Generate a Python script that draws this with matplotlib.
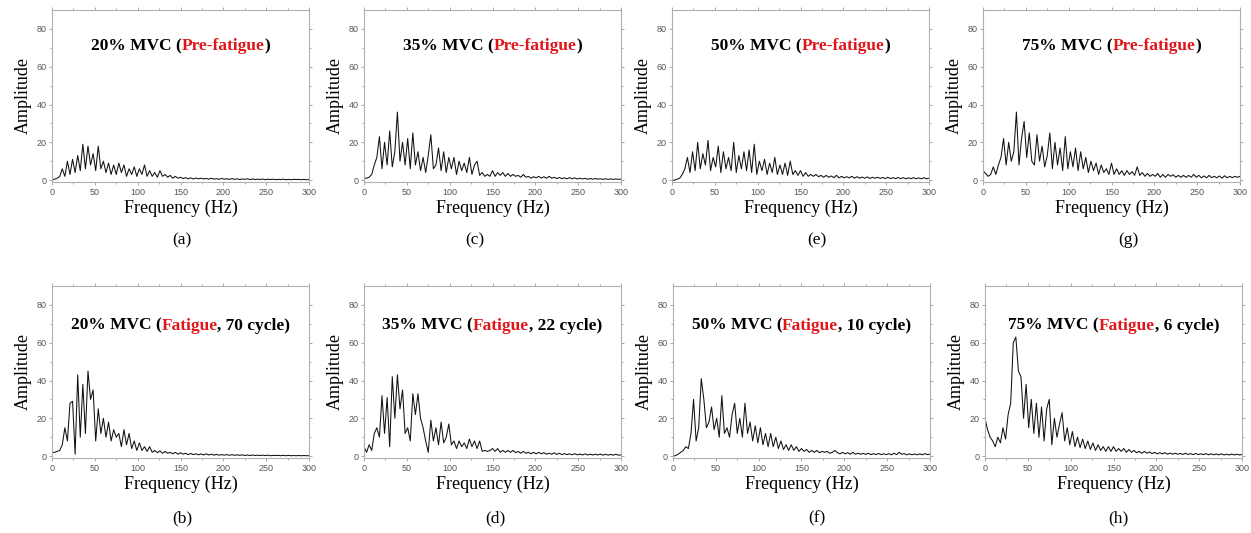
"""
EMG frequency spectra, pre-fatigue vs fatigue, at four MVC levels.
Saves out.png
"""

import numpy as np
import matplotlib
matplotlib.use('Agg')
import matplotlib.pyplot as plt

# ── Data (amplitude sampled every 3 Hz, 0..300 Hz) ───────────────────────────
STEP_HZ = 3

amp_20_pre = [
    0, 0.5, 1, 2, 6, 2, 10, 3, 11, 4,
    13, 5, 19, 6, 18, 8, 14, 5, 18, 6,
    10, 4, 9, 3, 8, 3, 9, 4, 8, 2,
    6, 3, 7, 2, 6, 3, 8, 2, 5, 2,
    4, 1.5, 5, 2, 3, 1.5, 2.5, 1, 2, 1,
    1.5, 0.8, 1.3, 0.7, 1.2, 0.6, 1.1, 0.7, 1, 0.6,
    0.9, 0.5, 1, 0.5, 0.8, 0.4, 0.9, 0.5, 0.7, 0.4,
    0.8, 0.4, 0.7, 0.3, 0.6, 0.4, 0.7, 0.3, 0.6, 0.3,
    0.5, 0.3, 0.6, 0.2, 0.5, 0.3, 0.5, 0.2, 0.4, 0.3,
    0.5, 0.2, 0.4, 0.2, 0.4, 0.3, 0.4, 0.2, 0.4, 0.2,
    0.3,
]
amp_35_pre = [
    1, 1, 1.5, 3, 8, 12, 23, 6, 20, 8,
    26, 7, 15, 36, 10, 20, 8, 22, 6, 25,
    8, 15, 5, 12, 4, 13, 24, 6, 8, 17,
    5, 15, 4, 12, 6, 12, 3, 10, 5, 9,
    4, 12, 3, 8, 10, 2.5, 4, 2, 3, 2,
    5, 2, 4, 2.5, 4, 2, 3.5, 2, 3, 2,
    2.5, 1.5, 3, 1.5, 2, 1, 1.8, 1.2, 2, 1,
    1.8, 1, 2, 1, 1.5, 0.8, 1.4, 0.8, 1.2, 0.7,
    1.3, 0.7, 1.2, 0.6, 1, 0.6, 0.9, 0.5, 0.8, 0.5,
    0.8, 0.5, 0.7, 0.4, 0.7, 0.4, 0.6, 0.4, 0.6, 0.4,
    0.5,
]
amp_50_pre = [
    0, 0, 0.5, 1, 3, 6, 12, 4, 15, 5,
    20, 6, 14, 8, 21, 5, 12, 7, 18, 4,
    15, 6, 12, 5, 20, 4, 13, 6, 15, 5,
    16, 4, 19, 3, 10, 5, 11, 3, 9, 4,
    12, 3, 8, 3, 9, 2.5, 10, 3, 5, 2.5,
    5, 2, 4, 2, 3, 2, 3, 1.8, 2.5, 1.5,
    2.5, 1.5, 2.2, 1.3, 2.5, 1.2, 2, 1.2, 1.8, 1.2,
    2, 1, 1.8, 1, 1.6, 1, 1.7, 0.9, 1.5, 1,
    1.5, 0.9, 1.4, 0.8, 1.5, 0.8, 1.3, 0.8, 1.4, 0.8,
    1.3, 0.7, 1.2, 0.8, 1.3, 0.7, 1.2, 0.7, 1.3, 0.7,
    1,
]
amp_75_pre = [
    5, 3.5, 2, 3, 7, 3, 8, 12, 22, 8,
    20, 10, 15, 36, 8, 22, 31, 12, 25, 10,
    8, 24, 10, 18, 7, 13, 25, 6, 20, 8,
    17, 5, 23, 6, 15, 7, 17, 5, 15, 6,
    12, 4, 10, 5, 9, 3, 8, 4, 6, 3,
    9, 3, 6, 3, 5, 2.5, 5, 3, 4.5, 2.5,
    7, 2.5, 4, 2, 3.5, 2, 3, 2, 3.5, 1.5,
    3, 1.5, 3, 2, 2.8, 1.5, 2.5, 1.5, 2.5, 1.5,
    2.5, 1.5, 3, 1.5, 2.5, 1.2, 2.2, 1.2, 2.5, 1.3,
    2, 1.2, 2.2, 1, 2.3, 1.2, 2, 1.3, 2, 1.5,
    2,
]
amp_20_fat = [
    2, 2, 2.5, 3, 6, 15, 8, 28, 29, 1,
    43, 10, 38, 12, 45, 30, 35, 8, 25, 12,
    20, 10, 18, 8, 14, 10, 12, 5, 14, 6,
    12, 4, 8, 3, 7, 3, 5, 2.5, 5, 2,
    3, 1.8, 2.8, 1.5, 2.5, 1.5, 2, 1.2, 2, 1,
    1.8, 1, 1.5, 0.8, 1.4, 0.8, 1.2, 0.7, 1.2, 0.6,
    1.2, 0.6, 1, 0.5, 0.9, 0.5, 0.8, 0.5, 0.8, 0.4,
    0.8, 0.4, 0.7, 0.4, 0.7, 0.3, 0.6, 0.3, 0.6, 0.3,
    0.5, 0.3, 0.5, 0.3, 0.5, 0.2, 0.4, 0.3, 0.4, 0.2,
    0.4, 0.2, 0.4, 0.2, 0.3, 0.2, 0.3, 0.2, 0.3, 0.2,
    0.2,
]
amp_35_fat = [
    5, 2, 6, 3, 12, 15, 10, 32, 12, 31,
    5, 42, 20, 43, 25, 35, 12, 15, 8, 33,
    22, 33, 20, 15, 8, 2, 19, 8, 15, 6,
    18, 7, 10, 17, 6, 8, 4, 8, 5, 7,
    4, 9, 5, 8, 4, 8, 2.5, 3, 2.5, 3,
    4, 2.5, 4, 2, 3, 2, 3, 2, 3, 1.8,
    2.5, 1.5, 2.5, 1.5, 2, 1.2, 2, 1.2, 2, 1.2,
    1.8, 1, 1.5, 1, 1.7, 0.9, 1.5, 0.8, 1.3, 0.8,
    1.2, 0.7, 1.3, 0.7, 1.1, 0.6, 1.2, 0.6, 1, 0.6,
    1, 0.6, 1.1, 0.5, 1, 0.5, 0.9, 0.5, 1, 0.5,
    0.6,
]
amp_50_fat = [
    0, 0.3, 1, 2, 3, 5, 4, 12, 30, 8,
    15, 41, 30, 15, 18, 26, 14, 20, 10, 32,
    12, 15, 10, 22, 28, 12, 20, 10, 28, 12,
    18, 8, 16, 7, 15, 6, 12, 5, 12, 5,
    10, 4, 8, 3.5, 6, 3, 6, 3, 5, 2.5,
    4, 2.5, 3.5, 2, 3, 2, 3, 1.8, 2.5, 2,
    2.5, 1.5, 2, 3, 1.8, 1.2, 2, 1.2, 1.8, 1,
    2, 1, 1.5, 1, 1.4, 0.9, 1.5, 0.8, 1.3, 0.8,
    1.4, 0.8, 1.2, 0.8, 1.3, 0.7, 1.5, 0.8, 2, 1,
    1.3, 0.7, 1.2, 0.7, 1.1, 0.7, 1.2, 0.7, 1.3, 0.8,
    1,
]
amp_75_fat = [
    20, 14, 10, 8, 5, 10, 7, 15, 9, 22,
    28, 60, 63, 45, 42, 20, 38, 15, 30, 12,
    28, 10, 26, 8, 25, 30, 6, 20, 10, 17,
    23, 8, 15, 6, 13, 5, 10, 4.5, 9, 4,
    8, 3.5, 7, 3, 6, 3, 5, 2.5, 5, 2.5,
    5, 2.5, 4, 2.5, 4, 2, 3.5, 2, 3, 1.8,
    2.5, 1.5, 2.5, 1.5, 2.2, 1.3, 2, 1.2, 1.8, 1.2,
    1.8, 1, 1.6, 1, 1.5, 1, 1.4, 0.9, 1.5, 0.9,
    1.3, 0.8, 1.4, 0.8, 1.2, 0.8, 1.3, 0.7, 1.2, 0.7,
    1.1, 0.7, 1.2, 0.6, 1, 0.6, 1.1, 0.6, 1, 0.6,
    0.8,
]

mvc_levels = ['20%', '35%', '50%', '75%']
pre_series = [amp_20_pre, amp_35_pre, amp_50_pre, amp_75_pre]
fat_series = [amp_20_fat, amp_35_fat, amp_50_fat, amp_75_fat]
fat_cycles = [70, 22, 10, 6]
pre_letters = ['(a)', '(c)', '(e)', '(g)']
fat_letters = ['(b)', '(d)', '(f)', '(h)']

x_ticks = [0, 50, 100, 150, 200, 250, 300]
y_ticks = [0, 20, 40, 60, 80]

# ── Layout (pixels of a 1251x533 canvas) ─────────────────────────────────────
W, H = 1251, 533
col_left = [[52, 364, 672, 983], [52, 364, 673, 985]]
row_top = [10, 286]
AX_W, AX_H = 257, 172
letter_x = [[182, 475, 817, 1128], [182, 495, 817, 1118]]
letter_y = [240, 518]

SERIF = 'Liberation Serif'
SANS = 'Liberation Sans'
RED = '#e0161b'

fig = plt.figure(figsize=(W / 100, H / 100), dpi=100)


def make_axes(row, col):
    left = col_left[row][col]
    ax = fig.add_axes([left / W, 1 - (row_top[row] + AX_H) / H, AX_W / W, AX_H / H])
    for sp in ax.spines.values():
        sp.set_color('#b0b0b0')
        sp.set_linewidth(0.8)
    ax.set_xlim(0, 300)
    ax.set_ylim(-1, 90)
    ax.set_xticks(x_ticks)
    ax.set_yticks(y_ticks)
    ax.set_xticks(np.arange(25, 300, 50), minor=True)
    ax.set_yticks(np.arange(10, 90, 20), minor=True)
    ax.tick_params(which='both', direction='out', color='#999999', width=0.6,
                   labelsize=6.5, labelcolor='#555555', pad=1.5,
                   top=True, right=True)
    ax.tick_params(which='major', length=2.5)
    ax.tick_params(which='minor', length=1.5)
    for lab in ax.get_xticklabels() + ax.get_yticklabels():
        lab.set_family(SANS)
    ax.set_xlabel('Frequency (Hz)', family=SERIF, fontsize=13, labelpad=2)
    ax.set_ylabel('Amplitude', family=SERIF, fontsize=13, labelpad=3)
    return ax


def rich_title(ax, pieces, y):
    """Draw multi-coloured bold text centred on the axes."""
    renderer = fig.canvas.get_renderer()
    texts, widths = [], []
    for s, c in pieces:
        t = ax.text(0, y, s, color=c, transform=ax.transAxes, ha='left',
                    va='baseline', family=SERIF, fontweight='bold', fontsize=12.5)
        texts.append(t)
        widths.append(t.get_window_extent(renderer).width / ax.bbox.width)
    x = 0.5 - sum(widths) / 2
    for t, w in zip(texts, widths):
        t.set_x(x)
        x += w


for col in range(4):
    # pre-fatigue (top row)
    ax = make_axes(0, col)
    amp = np.array(pre_series[col])
    ax.plot(np.arange(len(amp)) * STEP_HZ, amp, color='#111111', lw=0.75)
    rich_title(ax, [(f'{mvc_levels[col]} MVC (', 'black'), ('Pre-fatigue', RED), (')', 'black')], 0.765)
    fig.text(letter_x[0][col] / W, 1 - letter_y[0] / H, pre_letters[col],
             family=SERIF, fontsize=12.5, ha='center', va='center')

    # fatigue (bottom row)
    ax = make_axes(1, col)
    amp = np.array(fat_series[col])
    ax.plot(np.arange(len(amp)) * STEP_HZ, amp, color='#111111', lw=0.75)
    rich_title(ax, [(f'{mvc_levels[col]} MVC (', 'black'), ('Fatigue', RED),
                    (f', {fat_cycles[col]} cycle)', 'black')], 0.745)
    fig.text(letter_x[1][col] / W, 1 - letter_y[1] / H, fat_letters[col],
             family=SERIF, fontsize=12.5, ha='center', va='center')

fig.savefig('out.png', dpi=100)
